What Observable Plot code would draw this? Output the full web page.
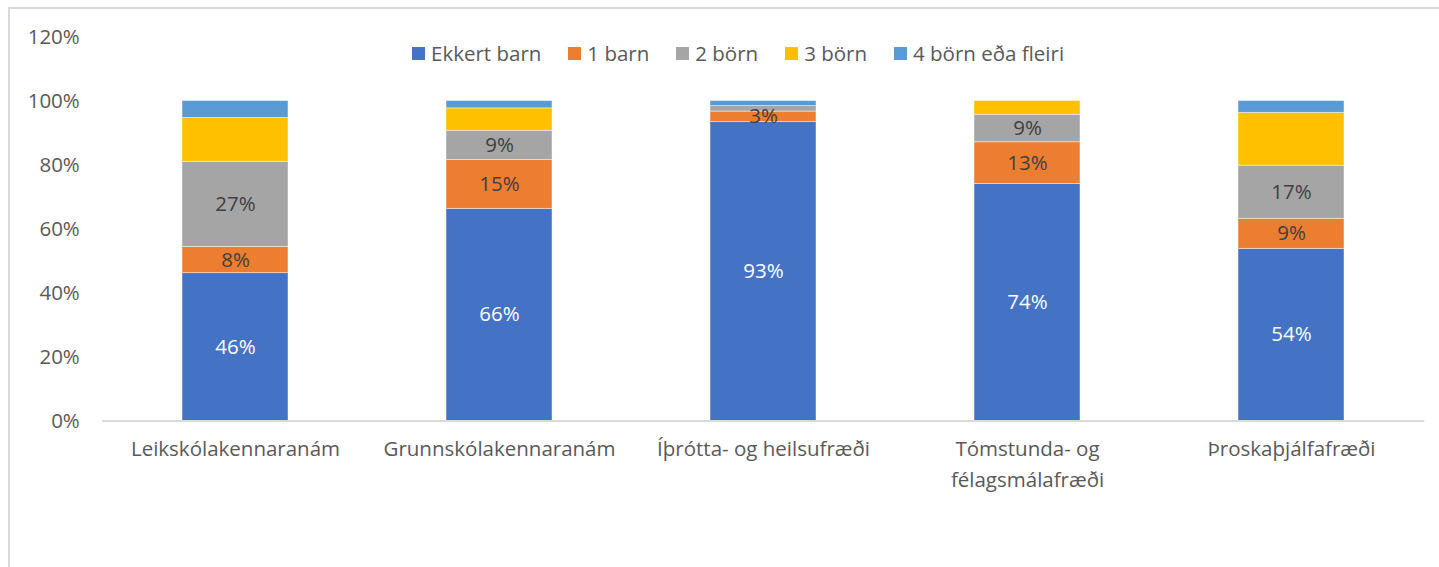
<!DOCTYPE html>
<html>
<head>
<meta charset="utf-8">
<script src="https://cdn.jsdelivr.net/npm/d3@7"></script>
<script src="https://cdn.jsdelivr.net/npm/@observablehq/plot@0.6"></script>
<style>
  html, body { margin: 0; padding: 0; overflow: hidden; background: #fff; width: 1439px; height: 567px; }
  #frame { position: absolute; left: 8px; top: 7px; width: 1500px; height: 620px; border-left: 2px solid #d9d9d9; border-top: 2px solid #d9d9d9; box-sizing: border-box; }
  #chart { position: absolute; left: 0; top: 0; }
  #legend { position: absolute; left: 412px; top: 39px; display: flex; align-items: center; font-family: "Open Sans", sans-serif; font-size: 20.5px; color: #595959; white-space: nowrap; }
  #legend .item { display: flex; align-items: center; margin-right: 27px; }
  #legend .sw { width: 13px; height: 13px; margin-right: 6px; }
</style>
</head>
<body>
<div id="frame"></div>
<div id="chart"></div>
<div id="legend"></div>
<script>
const categories = ["Leikskólakennaranám", "Grunnskólakennaranám", "Íþrótta- og heilsufræði", "Tómstunda- og félagsmálafræði", "Þroskaþjálfafræði"];
const xTickLabels = ["Leikskólakennaranám", "Grunnskólakennaranám", "Íþrótta- og heilsufræði", "Tómstunda- og\nfélagsmálafræði", "Þroskaþjálfafræði"];
const seriesNames = ["Ekkert barn", "1 barn", "2 börn", "3 börn", "4 börn eða fleiri"];
const ekkertBarn = [46.2, 66.3, 93.4, 74.1, 53.8];
const eittBarn   = [8.2, 15.3, 3.3, 13.0, 9.4];
const tvoBorn    = [26.6, 9.1, 1.7, 8.6, 16.6];
const thrjuBorn  = [13.7, 7.0, 0, 4.3, 16.5];
const fjogurBorn = [5.3, 2.3, 1.6, 0, 3.7];
const yTicks = [0, 20, 40, 60, 80, 100, 120];
const colors = ["#4472C4", "#ED7D31", "#A5A5A5", "#FFC000", "#5B9BD5"];
const labelledSeries = ["Ekkert barn", "1 barn", "2 börn"];

const seriesValues = [ekkertBarn, eittBarn, tvoBorn, thrjuBorn, fjogurBorn];
const table = [];
seriesNames.forEach((s, si) => {
  categories.forEach((c, ci) => {
    table.push({category: c, series: s, value: seriesValues[si][ci]});
  });
});

const font = '"Open Sans", sans-serif';
const plot = Plot.plot({
  width: 1439,
  height: 567,
  marginLeft: 102,
  marginRight: 14.7,
  marginTop: 36.5,
  marginBottom: 146.5,
  style: {fontFamily: font, fontSize: "20.5px", background: "transparent", overflow: "visible"},
  x: {type: "band", domain: categories, paddingInner: 0.6, paddingOuter: 0.3, align: 0.5},
  y: {domain: [0, 120]},
  color: {domain: seriesNames, range: colors},
  marks: [
    Plot.barY(table, {x: "category", y: "value", z: "series", fill: "series", stroke: "#ffffff", strokeWidth: 0.8, strokeOpacity: 0.55}),
    Plot.text(table, Plot.stackY({
      x: "category", y: "value", z: "series",
      text: d => (labelledSeries.includes(d.series) && d.value >= 2.5) ? Math.round(d.value) + "%" : "",
      fill: d => d.series === "Ekkert barn" ? "#ffffff" : "#404040",
      fontSize: 20.5
    })),
    Plot.ruleY([0], {stroke: "#d9d9d9", strokeWidth: 2}),
    Plot.axisY({ticks: yTicks, tickFormat: d => d + "%", tickSize: 0, tickPadding: 22.7, color: "#595959", fontSize: 20.5, label: null}),
    Plot.axisX({tickSize: 0, tickPadding: 13, color: "#595959", fontSize: 20.5, lineHeight: 1.5, label: null,
      tickFormat: d => xTickLabels[categories.indexOf(d)]})
  ]
});
document.getElementById("chart").appendChild(plot);

const legend = document.getElementById("legend");
seriesNames.forEach((s, i) => {
  const item = document.createElement("div");
  item.className = "item";
  const sw = document.createElement("div");
  sw.className = "sw";
  sw.style.background = colors[i];
  const t = document.createElement("span");
  t.textContent = s;
  item.appendChild(sw);
  item.appendChild(t);
  legend.appendChild(item);
});
</script>
</body>
</html>
